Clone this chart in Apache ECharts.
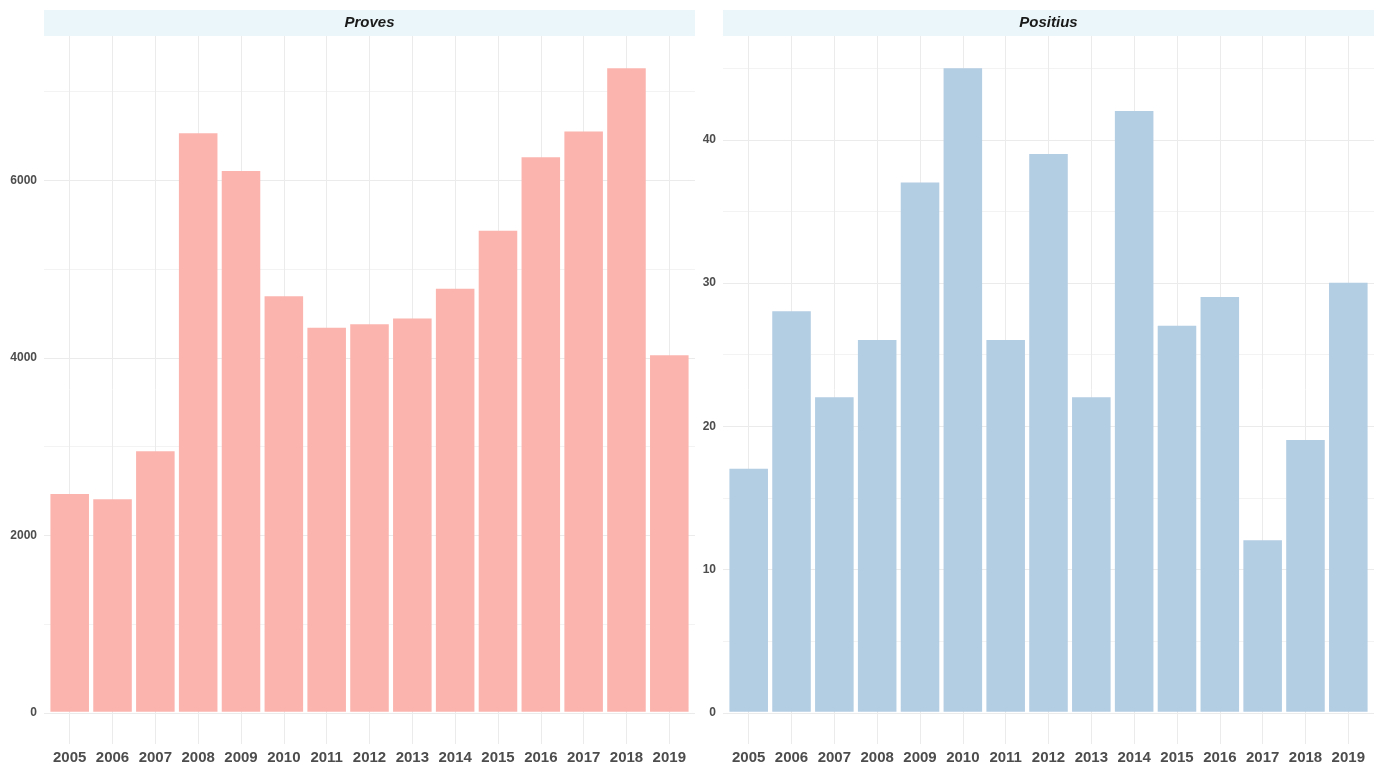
<!DOCTYPE html>
<html>
<head>
<meta charset="utf-8">
<script src="https://cdn.jsdelivr.net/npm/echarts@6/dist/echarts.min.js"></script>
<style>
html,body{margin:0;padding:0;background:#fff;}
#main{width:1379px;height:765px;}
</style>
</head>
<body>
<div id="main"></div>
<script>
const years = ['2005','2006','2007','2008','2009','2010','2011','2012','2013','2014','2015','2016','2017','2018','2019'];
const proves = [2460, 2400, 2940, 6530, 6105, 4690, 4335, 4375, 4440, 4775, 5430, 6260, 6550, 7265, 4025];
const positius = [17, 28, 22, 26, 37, 45, 26, 39, 22, 42, 27, 29, 12, 19, 30];
const panelTitles = ['Proves', 'Positius'];
const majorStep = [2000, 10];

const barColors = ['#FBB4AE', '#B3CDE3'];
const gridMajor = '#EBEBEB';
const gridMinor = '#F3F3F3';
const labelColor = '#4D4D4D';
const font = 'Liberation Sans, Arial, sans-serif';

// panel geometry (pixels)
const panels = [{x: 44, w: 651}, {x: 723, w: 651}];
const panelTop = 36, panelBottom = 745;
const band = 651 / (years.length - 1 + 1.2);
const inset = 0.1 * band;

const chart = echarts.init(document.getElementById('main'), null, {renderer: 'canvas'});

const grids = [], xAxes = [], yAxes = [], series = [], graphics = [];
const datasets = [proves, positius];

datasets.forEach((vals, p) => {
  const P = panels[p];
  const vmax = Math.max(...vals);
  const pad = vmax * 0.05;
  const ymin = -pad, ymax = vmax + pad;
  grids.push({left: P.x, top: panelTop, width: P.w, height: panelBottom - panelTop, containLabel: false});
  grids.push({left: P.x + inset, top: panelTop, width: P.w - 2 * inset, height: panelBottom - panelTop, containLabel: false});
  const g0 = p * 2, g1 = p * 2 + 1;
  xAxes.push({type: 'category', gridIndex: g0, data: years, show: false});
  xAxes.push({
    type: 'category', gridIndex: g1, data: years, boundaryGap: true,
    axisLine: {show: false, onZero: false},
    axisTick: {show: true, inside: true, alignWithLabel: true, interval: 0, length: panelBottom - panelTop, lineStyle: {color: gridMajor, width: 1}},
    axisLabel: {interval: 0, color: labelColor, fontWeight: 'bold', fontSize: 15, fontFamily: font, margin: 6},
    splitLine: {show: false}
  });
  yAxes.push({
    type: 'value', gridIndex: g0, min: ymin, max: ymax,
    minInterval: majorStep[p], maxInterval: majorStep[p],
    axisLine: {show: false}, axisTick: {show: false},
    axisLabel: {color: labelColor, fontWeight: 'bold', fontSize: 12, fontFamily: font, margin: 7,
      showMinLabel: false, showMaxLabel: false,
      formatter: v => (Math.abs(v % majorStep[p]) < 1e-9 ? String(v) : '')},
    splitLine: {show: true, showMinLine: false, showMaxLine: false, lineStyle: {color: gridMajor, width: 1}},
    minorTick: {show: false, splitNumber: 2},
    minorSplitLine: {show: true, lineStyle: {color: gridMinor, width: 1}}
  });
  yAxes.push({type: 'value', gridIndex: g1, min: ymin, max: ymax, show: false, splitLine: {show: false}});
  series.push({
    type: 'bar', xAxisIndex: g1, yAxisIndex: g1, data: vals, barWidth: '90%',
    itemStyle: {color: barColors[p]}, silent: true, animation: false
  });
  graphics.push({
    type: 'rect', left: P.x, top: 10, shape: {width: P.w, height: 26},
    style: {fill: '#EAF6F9'}, z: 10
  });
  graphics.push({
    type: 'text', x: P.x + P.w / 2, y: 23,
    style: {text: panelTitles[p], fill: '#1A1A1A', font: 'italic bold 15px ' + font, textAlign: 'center', textVerticalAlign: 'middle'},
    z: 11
  });
});

chart.setOption({
  animation: false,
  backgroundColor: '#FFFFFF',
  grid: grids,
  xAxis: xAxes,
  yAxis: yAxes,
  series: series,
  graphic: graphics
});
</script>
</body>
</html>
